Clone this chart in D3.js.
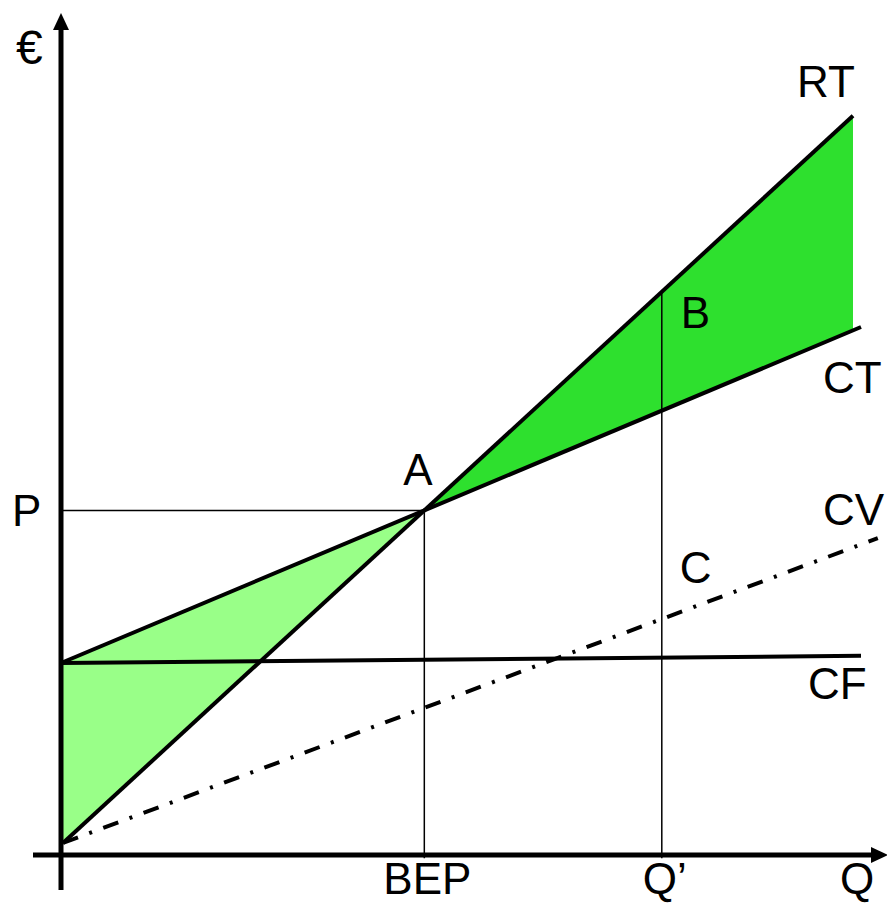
<!DOCTYPE html>
<html>
<head>
  <meta charset="UTF-8">
  <title>Break-even</title>
  <script src="https://d3js.org/d3.v7.min.js"></script>
  <style>
    body { margin: 0; background: white; }
    svg { font-family: "Liberation Sans", Arial, sans-serif; }
    .lbl { font-size: 44px; fill: black; }
  </style>
</head>
<body>
  <svg></svg>
  <script>
    // quantity (x) / euros (y), abstract units
    const rtLine = [[0.25, 1.5], [99, 92.4]];      // RT revenue
    const ctLine = [[0, 24], [100, 66]];           // CT total cost
    const cfLine = [[0, 24], [100, 24.9]];         // CF fixed cost
    const cvLine = [[0.25, 1.5], [102.1, 39.6]];   // CV variable cost
    const qPrime = 75.1;                           // Q'
    const axisLabels = ['€', 'Q', 'BEP', 'Q’', 'P'];
    const curveLabels = ['RT', 'CT', 'CV', 'CF'];
    const pointLabels = ['A', 'B', 'C'];

    const W = 887, H = 903;
    const x = d3.scaleLinear().domain([0, 100]).range([61, 861]);
    const y = d3.scaleLinear().domain([0, 100]).range([855, 55]);

    const svg = d3.select('svg').attr('width', W).attr('height', H);

    const lineAt = (seg, q) => {
      const [[x0, y0], [x1, y1]] = seg;
      return y0 + (y1 - y0) * (q - x0) / (x1 - x0);
    };
    const slope = seg => (seg[1][1] - seg[0][1]) / (seg[1][0] - seg[0][0]);

    // break-even point = RT ∩ CT
    const bepQ = (ctLine[0][1] - lineAt(rtLine, 0)) / (slope(rtLine) - slope(ctLine));
    const bepV = lineAt(ctLine, bepQ);
    const qEnd = rtLine[1][0];

    const line = d3.line().x(d => x(d[0])).y(d => y(d[1]));

    // loss zone
    svg.append('path')
      .attr('d', line([[0, ctLine[0][1]], [bepQ, bepV], rtLine[0], [0, 0]]) + 'Z')
      .attr('fill', '#99ff88');

    // profit zone
    svg.append('path')
      .attr('d', line([[bepQ, bepV], rtLine[1], [qEnd, lineAt(ctLine, qEnd)]]) + 'Z')
      .attr('fill', '#2ee02e');

    // guide lines
    svg.append('path')
      .attr('d', line([[0, bepV], [bepQ, bepV], [bepQ, -0.4]]))
      .attr('fill', 'none').attr('stroke', 'black').attr('stroke-width', 1.5);
    svg.append('path')
      .attr('d', line([[qPrime, lineAt(rtLine, qPrime)], [qPrime, -0.4]]))
      .attr('fill', 'none').attr('stroke', 'black').attr('stroke-width', 1.5);

    // curves
    [rtLine, ctLine, cfLine].forEach(seg => {
      svg.append('path')
        .attr('d', line(seg))
        .attr('fill', 'none').attr('stroke', 'black').attr('stroke-width', 4);
    });
    svg.append('path')
      .attr('d', line(cvLine))
      .attr('fill', 'none').attr('stroke', 'black').attr('stroke-width', 4)
      .attr('stroke-dasharray', '16,12,3,12');

    // axes with arrow heads
    svg.append('line')
      .attr('x1', x(0)).attr('x2', x(0)).attr('y1', 890).attr('y2', 26)
      .attr('stroke', 'black').attr('stroke-width', 5);
    svg.append('path')
      .attr('d', `M${x(0)},13 L${x(0) - 8},30 L${x(0) + 8},30Z`).attr('fill', 'black');
    svg.append('line')
      .attr('x1', 33).attr('x2', 874).attr('y1', y(0)).attr('y2', y(0))
      .attr('stroke', 'black').attr('stroke-width', 5);
    svg.append('path')
      .attr('d', `M888,${y(0)} L871,${y(0) - 8} L871,${y(0) + 8}Z`).attr('fill', 'black');

    const text = (t, px, py) => svg.append('text').attr('class', 'lbl')
      .attr('x', px).attr('y', py).text(t);

    // axis labels
    text(axisLabels[0], 16, 64).style('font-size', '48px');
    text(axisLabels[1], 840, 894);
    text(axisLabels[2], x(bepQ) - 41, 894);
    text(axisLabels[3], x(qPrime) - 19, 894);
    text(axisLabels[4], 12, y(bepV) + 16);

    // curve labels
    text(curveLabels[0], 797, 97);
    text(curveLabels[1], 823, 393);
    text(curveLabels[2], 823, 525);
    text(curveLabels[3], 808, 699);

    // point labels
    text(pointLabels[0], x(bepQ) - 21, y(bepV) - 25);
    text(pointLabels[1], x(qPrime) + 19, 328);
    text(pointLabels[2], x(qPrime) + 18, 583);
  </script>
</body>
</html>
